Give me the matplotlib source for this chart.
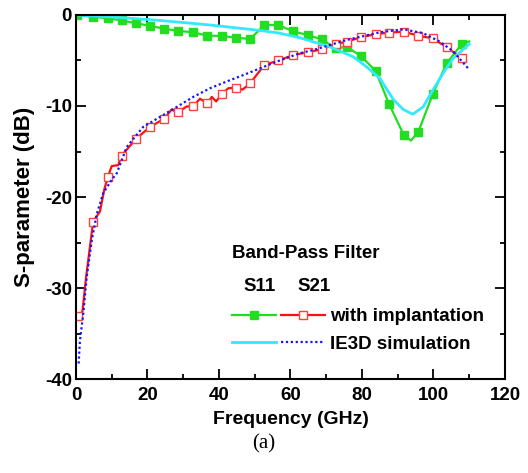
import matplotlib
matplotlib.use("Agg")
from matplotlib import pyplot as plt
from matplotlib.legend_handler import HandlerTuple
from matplotlib.ticker import MultipleLocator

# measured S11 (with implantation)
s11_freq = [0.2, 4.8, 8.9, 12.8, 16.8, 20.7, 24.7, 28.6, 32.8, 36.7, 40.8, 44.8,
            48.7, 52.7, 56.6, 60.8, 64.8, 68.7, 72.7, 75.7, 79.7, 83.8, 87.6,
            91.7, 93.7, 95.7, 99.8, 103.7, 107.9, 110.0]
s11_db = [0.0, -0.2, -0.36, -0.6, -0.9, -1.2, -1.5, -1.75, -1.9, -2.27, -2.3, -2.5,
          -2.64, -1.1, -1.1, -1.8, -2.2, -2.67, -3.66, -3.5, -4.5, -6.15, -9.8,
          -13.2, -13.8, -12.9, -8.7, -5.3, -3.2, -2.9]
s11_marks = [i for i in range(29) if i != 24]

# measured S21 (with implantation)
s21_freq = [0.5, 1.8, 2.8, 4.8, 6.7, 7.9, 8.9, 10.0, 11.8, 12.8, 16.8, 20.7, 24.7,
            26.7, 28.6, 30.9, 32.8, 34.7, 36.7, 38.0, 39.2, 40.8, 42.6, 44.8, 46.6,
            48.7, 52.7, 56.6, 60.8, 64.8, 68.7, 72.7, 75.7, 79.7, 83.8, 87.6, 91.7,
            95.7, 99.8, 103.7, 107.9]
s21_db = [-33.1, -32.6, -28.9, -22.7, -21.6, -19.2, -17.8, -16.6, -16.5, -15.45,
          -13.6, -12.3, -11.4, -10.4, -10.7, -10.06, -10.0, -9.2, -9.7, -9.0, -9.5,
          -8.7, -8.05, -8.0, -8.2, -7.5, -5.5, -5.0, -4.4, -4.1, -3.77, -3.2, -2.93,
          -2.45, -2.1, -1.94, -1.83, -2.27, -2.57, -3.55, -4.76]
s21_marks = [0, 3, 6, 9, 10, 11, 12, 14, 16, 18, 21, 23, 25, 26, 27, 28, 29, 30,
             31, 32, 33, 34, 35, 36, 37, 38, 39, 40]

# IE3D simulation
sim11_freq = [0, 9.5, 23.5, 37.5, 51.5, 57, 62.6, 71, 77.6, 81.3, 85, 88.8, 91.6,
              94.2, 97.1, 99.9, 102.7, 105.5, 110]
sim11_db = [0, -0.2, -0.6, -1.1, -1.7, -2.0, -2.5, -3.5, -4.6, -5.7, -6.96, -9.3,
            -10.4, -10.9, -10.1, -8.2, -6.4, -4.76, -3.2]
sim21_freq = [0.75, 1.1, 2.05, 3.0, 4.4, 5.8, 7.6, 10.0, 11.4, 14.2, 18.8, 23.5,
              28.2, 32.8, 37.5, 42.2, 46.8, 51.5, 56.1, 62.6, 66.4, 75.7, 85, 91.6,
              97.1, 101.8, 105.5, 110]
sim21_db = [-38.3, -35.8, -32.8, -28.8, -24.8, -21.9, -19.6, -18.1, -17.4, -14.5,
            -12.3, -11.2, -10.1, -9.0, -8.05, -7.3, -6.6, -5.86, -5.13, -4.2, -3.85,
            -2.75, -1.9, -1.57, -2.0, -2.93, -4.0, -6.0]

plt.rcParams['font.family'] = ['Liberation Sans', 'DejaVu Sans']
plt.rcParams['font.weight'] = 'bold'
plt.rcParams['font.size'] = 13.5
plt.rcParams['axes.unicode_minus'] = False

fig = plt.figure(figsize=(5.28, 4.73), dpi=100)
ax = fig.add_axes([0.1439, 0.1987, 0.8125, 0.7696])

green, = ax.plot(s11_freq, s11_db, color='#22dd22', lw=1.6, marker='s', ms=5.5,
                 markevery=s11_marks, mfc='#22dd22', mec='#22dd22')
red, = ax.plot(s21_freq, s21_db, color='#ff1010', lw=1.6, marker='s', ms=5.5,
               markevery=s21_marks, mfc='white', mec='#ff4040', mew=1.0)
cyan, = ax.plot(sim11_freq, sim11_db, color='#33e8ff', lw=2.0)
blue, = ax.plot(sim21_freq, sim21_db, color='#1515ff', lw=1.6, ls=(0, (1, 1.2)))

ax.set_xlim(0, 120)
ax.set_ylim(-40, 0)
ax.xaxis.set_major_locator(MultipleLocator(20))
ax.xaxis.set_minor_locator(MultipleLocator(10))
ax.yaxis.set_major_locator(MultipleLocator(10))
ax.yaxis.set_minor_locator(MultipleLocator(5))
ax.tick_params(which='both', direction='in', top=True, right=True, width=1.3)
ax.tick_params(which='major', length=7)
ax.tick_params(which='minor', length=3.5)
ax.tick_params(axis='x', pad=6)
ax.tick_params(axis='y', pad=3)
for s in ax.spines.values():
    s.set_linewidth(1.5)

ax.set_xlabel('Frequency (GHz)', fontweight='bold', fontsize=14, labelpad=5)
ax.set_ylabel('S-parameter (dB)', fontweight='bold', fontsize=16, labelpad=7)

ax.text(0.536, 0.345, 'Band-Pass Filter', transform=ax.transAxes,
        ha='center', va='center', fontweight='bold')
ax.text(0.428, 0.253, 'S11', transform=ax.transAxes, ha='center', va='center',
        fontweight='bold')
ax.text(0.555, 0.253, 'S21', transform=ax.transAxes, ha='center', va='center',
        fontweight='bold')

ax.legend([(green, red), (cyan, blue)], ['with implantation', 'IE3D simulation'],
          handler_map={tuple: HandlerTuple(ndivide=None, pad=0.25)},
          loc='upper left', bbox_to_anchor=(0.3636, 0.195), frameon=False,
          borderpad=0, borderaxespad=0, handlelength=4.95, handletextpad=0.27,
          labelspacing=0.55, numpoints=1, prop={'weight': 'bold', 'size': 13.5})

fig.text(0.5, 0.062, '(a)', ha='center', va='center',
         family=['Liberation Serif', 'DejaVu Serif'], fontweight='normal', fontsize=15)

fig.savefig('out.png', dpi=100)
